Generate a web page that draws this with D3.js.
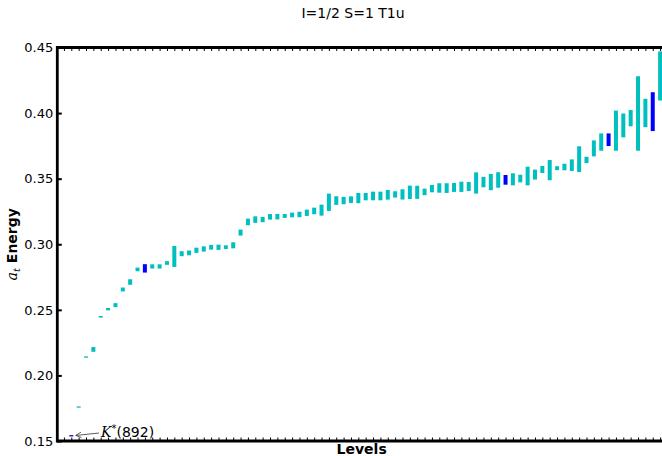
<!DOCTYPE html>
<html>
<head>
<meta charset="utf-8">
<script src="https://cdn.jsdelivr.net/npm/d3@7"></script>
<style>
  html, body { margin: 0; padding: 0; background: #fff; }
  svg { display: block; }
</style>
</head>
<body>
<svg id="chart" width="662" height="456"></svg>
<script>
// Spectrum of energy levels (a_t E) with statistical uncertainty, ordered by level.
const energies = [
  0.1540, 0.1759, 0.2140, 0.2198, 0.2447, 0.2505, 0.2536, 0.2655, 0.2712, 0.2808,
  0.2816, 0.2831, 0.2831, 0.2857, 0.2907, 0.2928, 0.2934, 0.2954, 0.2964, 0.2977,
  0.2977, 0.2978, 0.2992, 0.3089, 0.3170, 0.3188, 0.3188, 0.3209, 0.3210, 0.3216,
  0.3223, 0.3227, 0.3240, 0.3254, 0.3260, 0.3320, 0.3333, 0.3333, 0.3340, 0.3352,
  0.3363, 0.3368, 0.3368, 0.3377, 0.3380, 0.3380, 0.3396, 0.3396, 0.3399, 0.3424,
  0.3429, 0.3428, 0.3433, 0.3438, 0.3440, 0.3467, 0.3474, 0.3474, 0.3490, 0.3491,
  0.3495, 0.3501, 0.3520, 0.3531, 0.3570, 0.3565, 0.3580, 0.3589, 0.3603, 0.3649,
  0.3643, 0.3731, 0.3779, 0.3797, 0.3866, 0.3906, 0.3961, 0.3997, 0.4001, 0.4011,
  0.4283
];
const errors = [
  0.0005, 0.0005, 0.0005, 0.0018, 0.0006, 0.0009, 0.0015, 0.0015, 0.0021, 0.0014,
  0.0032, 0.0016, 0.0016, 0.0014, 0.0080, 0.0019, 0.0018, 0.0020, 0.0020, 0.0018,
  0.0020, 0.0014, 0.0023, 0.0023, 0.0025, 0.0025, 0.0020, 0.0021, 0.0021, 0.0015,
  0.0018, 0.0021, 0.0024, 0.0025, 0.0042, 0.0066, 0.0033, 0.0028, 0.0025, 0.0039,
  0.0028, 0.0033, 0.0033, 0.0037, 0.0024, 0.0039, 0.0051, 0.0050, 0.0025, 0.0028,
  0.0036, 0.0037, 0.0034, 0.0039, 0.0034, 0.0081, 0.0040, 0.0062, 0.0059, 0.0037,
  0.0046, 0.0029, 0.0071, 0.0038, 0.0027, 0.0077, 0.0015, 0.0025, 0.0044, 0.0098,
  0.0024, 0.0061, 0.0066, 0.0048, 0.0153, 0.0091, 0.0062, 0.0284, 0.0108, 0.0148,
  0.0187
];
// Levels (1-based) identified as single-meson dominated
const singleMesonLevels = [1, 11, 60, 74, 80];
const yTicks = [0.15, 0.20, 0.25, 0.30, 0.35, 0.40, 0.45];
const titleText = "I=1/2 S=1 T1u";
const xLabel = "Levels";

const levels = energies.map((e, i) => ({
  level: i + 1,
  energy: e,
  err: errors[i],
  single: singleMesonLevels.includes(i + 1)
}));

const svg = d3.select("#chart");
const plotLeft = 57.3, plotRight = 666, plotTop = 47.5, plotBottom = 441;

const x = d3.scaleLinear().domain([-0.9, 81.8]).range([plotLeft, plotRight]);
const y = d3.scaleLinear().domain([0.15, 0.45]).range([plotBottom, plotTop]);

svg.append("defs").append("clipPath").attr("id", "plot-clip")
  .append("rect").attr("x", plotLeft).attr("y", plotTop)
  .attr("width", plotRight - plotLeft).attr("height", plotBottom - plotTop);

// Error bars
svg.append("g").attr("clip-path", "url(#plot-clip)")
  .selectAll("rect").data(levels).join("rect")
  .attr("x", d => x(d.level) - 2)
  .attr("width", 4)
  .attr("y", d => {
    const h = y(d.energy - d.err) - y(d.energy + d.err);
    return h < 1.3 ? y(d.energy) - 0.65 : y(d.energy + d.err);
  })
  .attr("height", d => Math.max(y(d.energy - d.err) - y(d.energy + d.err), 1.3))
  .attr("fill", d => d.single ? "#0000ff" : "#00bfbf");

// Minor x ticks (inward) on bottom and top
const xTickVals = d3.range(0, 82);
const bottomAxis = svg.append("g").attr("transform", `translate(0,${plotBottom})`)
  .call(d3.axisBottom(x).tickValues(xTickVals).tickSize(-3.5).tickFormat(""));
const topAxis = svg.append("g").attr("transform", `translate(0,${plotTop})`)
  .call(d3.axisTop(x).tickValues(xTickVals).tickSize(-3.5).tickFormat(""));
[bottomAxis, topAxis].forEach(g => {
  g.select(".domain").remove();
  g.selectAll(".tick line").attr("stroke", "#000").attr("stroke-width", 1);
});

// Y axis with inward major ticks
const yAxis = svg.append("g").attr("transform", `translate(${plotLeft},0)`)
  .call(d3.axisLeft(y).tickValues(yTicks).tickSize(-4.5).tickPadding(4)
    .tickFormat(d3.format(".2f")));
yAxis.select(".domain").remove();
yAxis.selectAll(".tick line").attr("stroke", "#000").attr("stroke-width", 2);
yAxis.selectAll(".tick text")
  .attr("font-family", "DejaVu Sans").attr("font-size", 13).attr("fill", "#000");

// Spines
const spine = svg.append("g").attr("stroke", "#000").attr("stroke-width", 2.8);
spine.append("line").attr("x1", plotLeft).attr("x2", plotLeft)
  .attr("y1", plotTop - 1.4).attr("y2", plotBottom + 1.4);
spine.append("line").attr("x1", plotLeft).attr("x2", plotRight).attr("y1", plotTop).attr("y2", plotTop);
spine.append("line").attr("x1", plotLeft).attr("x2", plotRight).attr("y1", plotBottom).attr("y2", plotBottom);

// Title
svg.append("text").attr("x", 353).attr("y", 17.5).attr("text-anchor", "middle")
  .attr("font-family", "DejaVu Sans").attr("font-size", 14).attr("fill", "#000")
  .text(titleText);

// X label
svg.append("text").attr("x", (plotLeft + plotRight) / 2).attr("y", 453.5).attr("text-anchor", "middle")
  .attr("font-family", "DejaVu Sans").attr("font-size", 14).attr("font-weight", "bold")
  .attr("fill", "#000").text(xLabel);

// Y label: a_t Energy
const yl = svg.append("text")
  .attr("transform", `translate(17,${(plotTop + plotBottom) / 2}) rotate(-90)`)
  .attr("text-anchor", "middle").attr("fill", "#000")
  .attr("font-family", "DejaVu Sans").attr("font-size", 14);
yl.append("tspan").attr("font-family", "DejaVu Serif").attr("font-style", "italic").text("a");
yl.append("tspan").attr("font-family", "DejaVu Serif").attr("font-style", "italic")
  .attr("font-size", 10).attr("dy", 3).text("t");
yl.append("tspan").attr("dy", -3).attr("font-weight", "bold").text(" Energy");

// Annotation for the lowest level
const first = levels[0];
const tipX = x(first.level) + 4.5, tipY = y(first.energy) - 0.3;
const tailX = 99, tailY = 433;
const ann = svg.append("g").attr("stroke", "#333").attr("stroke-width", 0.8).attr("fill", "none");
ann.append("line").attr("x1", tailX).attr("y1", tailY).attr("x2", tipX).attr("y2", tipY);
const ang = Math.atan2(tailY - tipY, tailX - tipX);
const hl = 6, hw = 0.45;
ann.append("path").attr("d",
  `M${tipX + hl * Math.cos(ang + hw)},${tipY + hl * Math.sin(ang + hw)} L${tipX},${tipY} L${tipX + hl * Math.cos(ang - hw)},${tipY + hl * Math.sin(ang - hw)}`);
const at = svg.append("text").attr("x", 101).attr("y", 437).attr("fill", "#000")
  .attr("font-family", "DejaVu Sans").attr("font-size", 14);
at.append("tspan").attr("font-family", "DejaVu Serif").attr("font-style", "italic").text("K");
at.append("tspan").attr("font-size", 10).attr("dy", -5).text("*");
at.append("tspan").attr("dy", 5).text("(892)");
</script>
</body>
</html>
